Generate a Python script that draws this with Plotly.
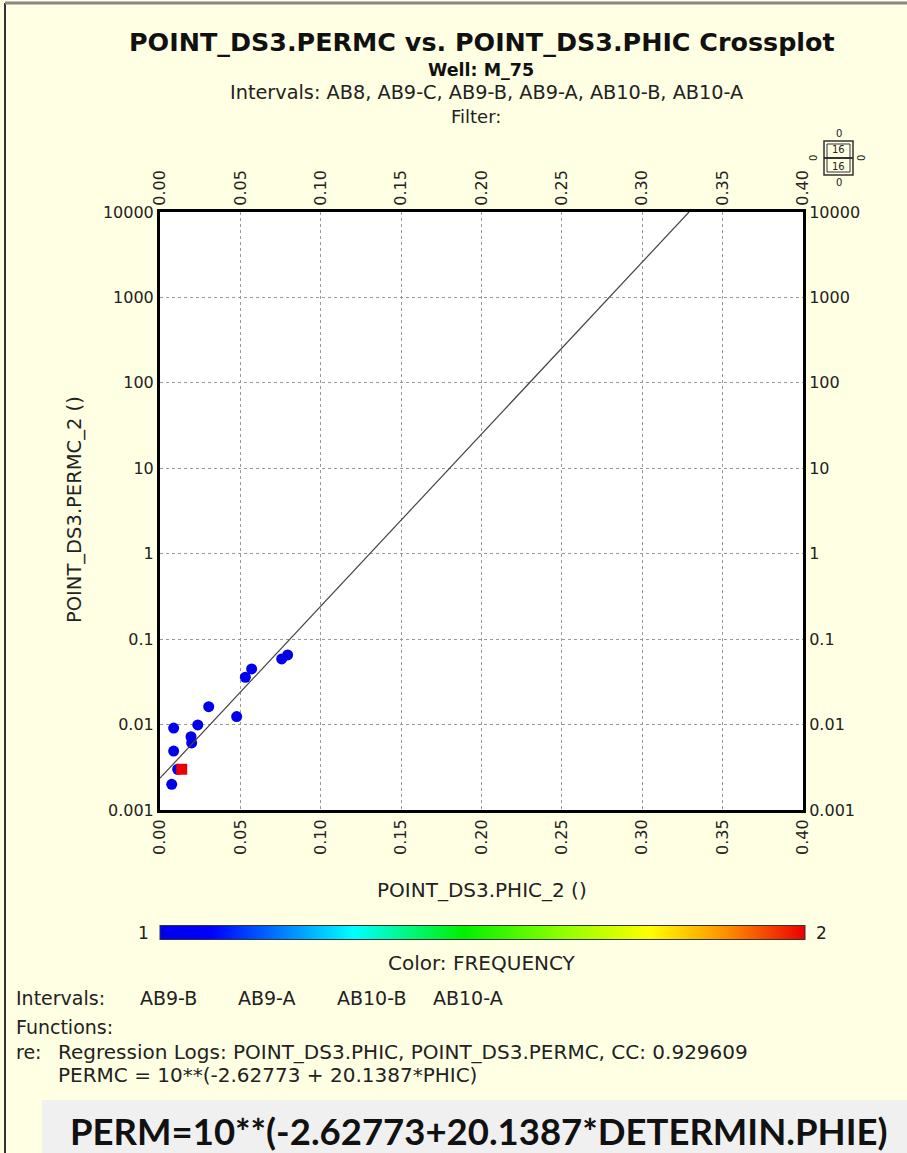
import numpy as np
import plotly.graph_objects as go

# ---------------- data ----------------
phic = [0.0085, 0.0085, 0.0073, 0.0110, 0.0193, 0.0197, 0.0235, 0.0303,
        0.0477, 0.0531, 0.0570, 0.0757, 0.0794, 0.0135]
permc = [0.0091, 0.0049, 0.0020, 0.0030, 0.0072, 0.0061, 0.0099, 0.0162,
         0.0124, 0.0358, 0.0448, 0.0586, 0.0653, 0.0030]
frequency = [1, 1, 1, 1, 1, 1, 1, 1, 1, 1, 1, 1, 1, 2]

reg_a = -2.62773
reg_b = 20.1387
reg_cc = 0.929609

x_ticks = [0.00, 0.05, 0.10, 0.15, 0.20, 0.25, 0.30, 0.35, 0.40]
y_ticks = [0.001, 0.01, 0.1, 1, 10, 100, 1000, 10000]
y_ticktext = ["0.001", "0.01", "0.1", "1", "10", "100", "1000", "10000"]
intervals_used = ["AB9-B", "AB9-A", "AB10-B", "AB10-A"]

W, H = 907, 1153
def px(x): return x / W
def py(y): return 1 - y / H

BG = "#FFFFE3"
TXT = "#222222"
FONT = "DejaVu Sans, Arial, sans-serif"

jet = [[0.0, "rgb(0,0,235)"], [0.08, "rgb(0,0,255)"], [0.30, "rgb(0,255,255)"],
       [0.47, "rgb(0,240,0)"], [0.62, "rgb(140,255,0)"], [0.76, "rgb(255,255,0)"],
       [0.88, "rgb(255,140,0)"], [1.0, "rgb(235,0,0)"]]

# regression line from coefficients
x_end = (np.log10(10000) - reg_a) / reg_b
xl = np.linspace(0, x_end, 100)
yl = 10 ** (reg_a + reg_b * xl)

fig = go.Figure()
fig.add_trace(go.Scatter(x=xl, y=yl, mode="lines", xaxis="x2", yaxis="y2",
                         line=dict(color="#444444", width=1.2), showlegend=False,
                         hoverinfo="skip"))
symbols = ["square" if f > 1 else "circle" for f in frequency]
fig.add_trace(go.Scatter(
    x=phic, y=permc, mode="markers", showlegend=False,
    marker=dict(size=11, color=frequency, colorscale=jet, cmin=1, cmax=2,
                symbol=symbols, line=dict(width=0),
                colorbar=dict(orientation="h", x=px(482), xanchor="center",
                              len=645 / W, lenmode="fraction",
                              y=py(933), yanchor="middle", thickness=14,
                              outlinewidth=1, outlinecolor="#333333",
                              showticklabels=False, ticks="", xpad=0, ypad=0))))

axis_common = dict(showline=True, linewidth=3, linecolor="black", ticks="",
                   tickfont=dict(family=FONT, size=16, color=TXT), zeroline=False)

fig.update_layout(
    width=W, height=H, margin=dict(l=0, r=0, t=0, b=0),
    paper_bgcolor=BG, plot_bgcolor="white",
    xaxis=dict(domain=[px(160), px(803)], range=[0, 0.4], tickvals=x_ticks,
               tickformat=".2f", tickangle=-90, showgrid=True,
               gridcolor="#999999", griddash="dot", gridwidth=1, anchor="y",
               automargin=False, mirror=True, **axis_common),
    xaxis2=dict(overlaying="x", side="top", range=[0, 0.4], tickvals=x_ticks,
                tickformat=".2f", tickangle=-90, showgrid=False, anchor="y2",
                automargin=False, **axis_common),
    yaxis=dict(domain=[py(810), py(212)], type="log", range=[-3, 4],
               tickvals=y_ticks, ticktext=y_ticktext, showgrid=True,
               gridcolor="#999999", griddash="dot", gridwidth=1, anchor="x",
               automargin=False, mirror=True, **axis_common),
    yaxis2=dict(overlaying="y", side="right", type="log", range=[-3, 4],
                tickvals=y_ticks, ticktext=y_ticktext, showgrid=False,
                anchor="x2", automargin=False, **axis_common),
    showlegend=False,
)

shapes = [
    dict(type="rect", xref="paper", yref="paper", x0=px(42), x1=1, y0=0, y1=py(1100),
         fillcolor="#F0F0F0", line=dict(width=0), layer="below"),
    dict(type="line", xref="paper", yref="paper", x0=px(5), x1=px(5), y0=0, y1=py(3),
         line=dict(color="#333333", width=2)),
    dict(type="line", xref="paper", yref="paper", x0=px(5), x1=1, y0=py(3), y1=py(3),
         line=dict(color="#888888", width=3)),
    # small legend box top right
    dict(type="rect", xref="paper", yref="paper", x0=px(824), x1=px(853), y0=py(175), y1=py(141),
         line=dict(color="#333333", width=1.5)),
    dict(type="rect", xref="paper", yref="paper", x0=px(827), x1=px(850), y0=py(172), y1=py(144),
         line=dict(color="#333333", width=1)),
    dict(type="line", xref="paper", yref="paper", x0=px(824), x1=px(853), y0=py(158), y1=py(158),
         line=dict(color="#333333", width=2)),
]

def ann(x, y, text, size=15, bold=False, xanchor="center", angle=0, color=TXT, family=FONT):
    if bold:
        text = "<b>" + text + "</b>"
    return dict(x=px(x), y=py(y), xref="paper", yref="paper", text=text, showarrow=False,
                xanchor=xanchor, yanchor="middle", textangle=angle,
                font=dict(family=family, size=size, color=color))

annotations = [
    ann(482, 42, "POINT_DS3.PERMC vs. POINT_DS3.PHIC Crossplot", size=25.4, bold=True, color="#111111"),
    ann(481, 70, "Well: M_75", size=17.5, bold=True, color="#111111"),
    ann(487, 93, "Intervals: AB8, AB9-C, AB9-B, AB9-A, AB10-B, AB10-A", size=19.3),
    ann(476, 116, "Filter:", size=18),
    ann(482, 890, "POINT_DS3.PHIC_2 ()", size=20),
    ann(75, 510, "POINT_DS3.PERMC_2 ()", size=19.5, angle=-90),
    ann(143, 933, "1", size=17),
    ann(821, 933, "2", size=17),
    ann(482, 963, "Color: FREQUENCY", size=20),
    ann(14, 998, "Intervals:", size=19, xanchor="left"),
    ann(14, 1027, "Functions:", size=19, xanchor="left"),
    ann(14, 1052, "re:", size=19, xanchor="left"),
    ann(56, 1052, "Regression Logs: POINT_DS3.PHIC, POINT_DS3.PERMC, CC: " + f"{reg_cc:.6f}",
        size=20, xanchor="left"),
    ann(56, 1075, f"PERMC = 10**({reg_a} + {reg_b}*PHIC)", size=20, xanchor="left"),
    ann(479, 1131, f"PERM=10**({reg_a}+{reg_b}*DETERMIN.PHIE)", size=36.5, bold=True,
        color="#111111", family="Lato, Noto Sans, sans-serif"),
    # legend box numbers
    ann(838.5, 150, "16", size=10),
    ann(838.5, 167, "16", size=10),
    ann(838.5, 133, "0", size=10),
    ann(838.5, 183, "0", size=10),
    ann(813, 158, "0", size=10, angle=-90),
    ann(861, 158, "0", size=10, angle=-90),
]
for i, name in enumerate(intervals_used):
    annotations.append(ann([138, 236, 335, 431][i], 998, name, size=19, xanchor="left"))

fig.update_layout(shapes=shapes, annotations=annotations)
fig.write_html("out.html", config=dict(displayModeBar=False),
               post_script="document.body.style.margin='0';document.body.style.overflow='hidden';")
